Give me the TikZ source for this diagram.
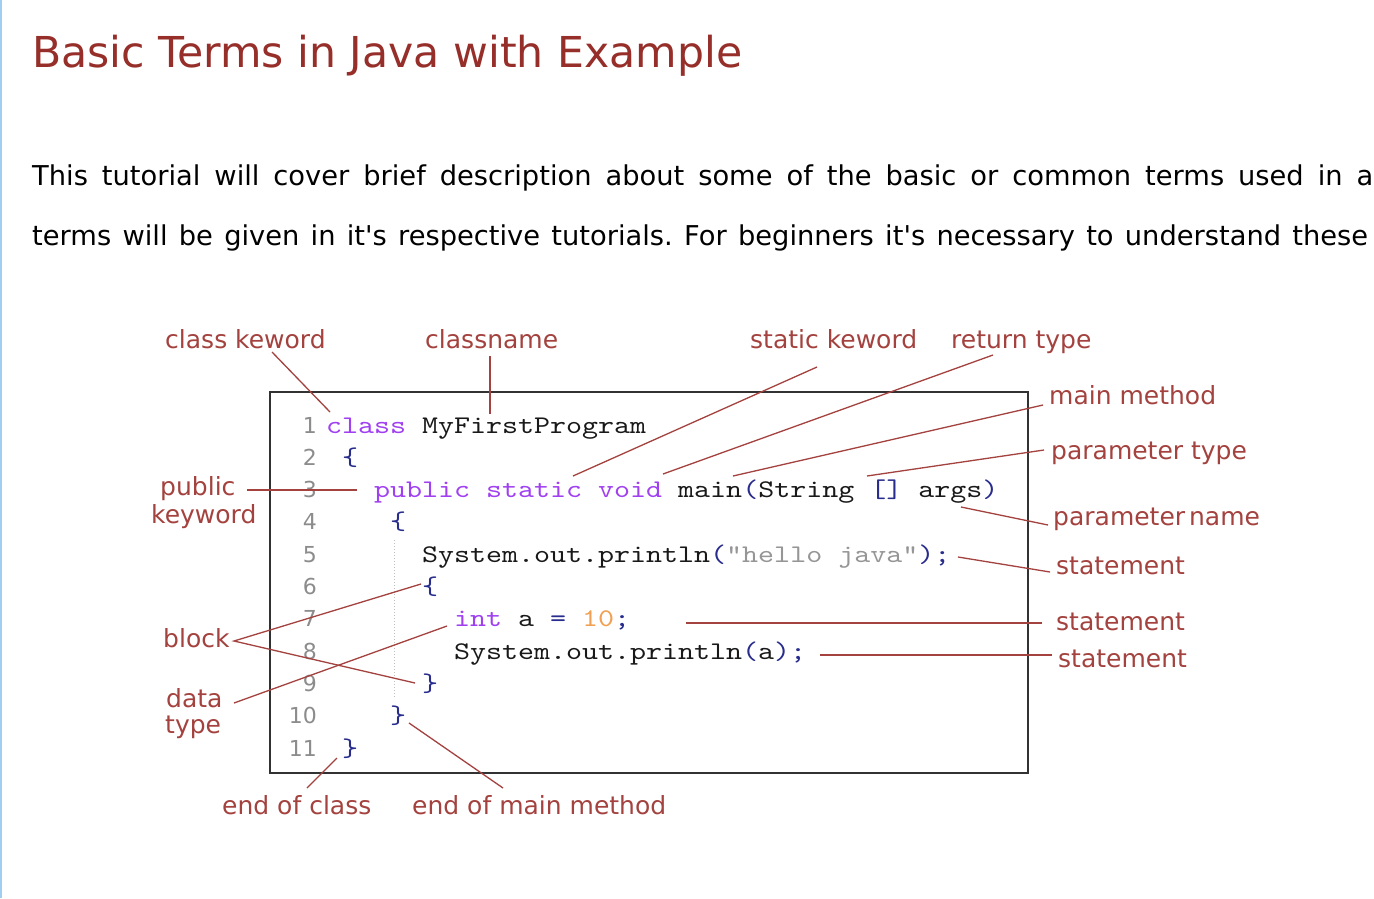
\documentclass[tikz,border=0pt]{standalone}
\usepackage{fontspec}
\setmainfont{DejaVu Sans}[Ligatures=TeXOff]
\newfontfamily\codef{lmmono10-regular}[Extension=.otf,FakeStretch=1.2,Ligatures=TeXOff]
\definecolor{titlec}{RGB}{150,46,42}
\definecolor{lblc}{RGB}{163,66,62}
\definecolor{kwc}{RGB}{160,64,240}
\definecolor{brc}{RGB}{40,44,140}
\definecolor{numc}{RGB}{240,160,80}
\definecolor{strc}{RGB}{150,150,150}
\definecolor{lnc}{RGB}{140,140,140}
\definecolor{idc}{RGB}{25,25,25}
\definecolor{boxc}{RGB}{50,50,50}
\definecolor{edgec}{RGB}{160,205,240}
\newcommand\jkw[1]{\textcolor{kwc}{#1}}
\newcommand\jbr[1]{\textcolor{brc}{#1}}
\newcommand\jnum[1]{\textcolor{numc}{#1}}
\newcommand\jstr[1]{\textcolor{strc}{#1}}
\begin{document}
\frenchspacing
\begin{tikzpicture}[x=1pt,y=-1pt,
  lbl/.style={text=lblc,font=\fontsize{25}{26}\selectfont,inner sep=0pt,anchor=base west},
  conn/.style={draw=lblc,line width=1.3pt},
  codeline/.style={text=idc,font=\codef\fontsize{25.4}{32}\selectfont,inner sep=0pt,anchor=base west},
  lnum/.style={text=lnc,font=\fontsize{22}{26}\selectfont,inner sep=0pt,anchor=base east},
  bodytxt/.style={text=black,font=\fontsize{27.3}{32}\selectfont,inner sep=0pt,anchor=base west}]
\useasboundingbox (0,0) rectangle (1374,898);
\fill[white] (0,0) rectangle (1374,898);
\draw[edgec,line width=1.6pt] (0.8,0) -- (0.8,898);
% heading and text
\node[text=titlec,font=\fontsize{42.6}{48}\selectfont,inner sep=0pt,anchor=base west] (title) at (32,67) {Basic Terms in Java with Example};
\node[bodytxt] (para1) at (32,185) {\makebox[1341pt][s]{This tutorial will cover brief description about some of the basic or common terms used in a}};
\node[bodytxt] (para2) at (32,245) {\makebox[1336pt][s]{terms will be given in it's respective tutorials. For beginners it's necessary to understand these}};
% code box
\draw[boxc,line width=2pt] (270,392) rectangle (1028,773);
\draw[gray!50,dotted,line width=1pt] (394,540) -- (394,698);
% line numbers
\foreach \n in {1,...,11}{
  \node[lnum] (ln\n) at (317,{433+32.3*(\n-1)}) {\n};
}
% code lines
\node[codeline] (c1) at (326,433) {\jkw{class} MyFirstProgram};
\node[codeline] (c2) at (342,465.3) {\jbr{\{}};
\node[codeline] (c3) at (374,497.6) {\jkw{public static void} main\jbr{(}String \jbr{[]} args\jbr{)}};
\node[codeline] (c4) at (390,529.9) {\jbr{\{}};
\node[codeline] (c5) at (422,562.2) {System.out.println\jbr{(}\jstr{"hello java"}\jbr{);}};
\node[codeline] (c6) at (422,594.5) {\jbr{\{}};
\node[codeline] (c7) at (454,626.8) {\jkw{int} a \jbr{=} \jnum{10}\jbr{;}};
\node[codeline] (c8) at (454,659.1) {System.out.println\jbr{(}a\jbr{);}};
\node[codeline] (c9) at (422,691.4) {\jbr{\}}};
\node[codeline] (c10) at (390,723.7) {\jbr{\}}};
\node[codeline] (c11) at (342,756) {\jbr{\}}};
% labels
\node[lbl] (Lck) at (165,348) {class keword};
\node[lbl] (Lcn) at (425,348) {classname};
\node[lbl] (Lsk) at (750,348) {static keword};
\node[lbl] (Lrt) at (951,348) {return type};
\node[lbl] (Lmm) at (1049,404) {main method};
\node[lbl] (Lpt) at (1051,459) {parameter type};
\node[lbl] (Lpn) at (1053,525) {parameter\hspace{-4pt} name};
\node[lbl] (Ls1) at (1056,574) {statement};
\node[lbl] (Ls2) at (1056,630) {statement};
\node[lbl] (Ls3) at (1058,667) {statement};
\node[lbl] (Lpk1) at (160,495) {public};
\node[lbl] (Lpk2) at (151,523) {keyword};
\node[lbl] (Lbl) at (163,647) {block};
\node[lbl] (Ldt1) at (166,707) {data};
\node[lbl] (Ldt2) at (165,733) {type};
\node[lbl] (Leoc) at (222,814) {end of class};
\node[lbl] (Leom) at (412,814) {end of main method};
% connector end points
\coordinate (ck0) at (272,352); \coordinate (ck1) at (330,412);
\coordinate (cn0) at (490,356); \coordinate (cn1) at (490,414);
\coordinate (sk0) at (817,367); \coordinate (sk1) at (573,476);
\coordinate (rt0) at (993,355); \coordinate (rt1) at (663,474);
\coordinate (mm0) at (1043,405); \coordinate (mm1) at (733,476);
\coordinate (pt0) at (1044,450); \coordinate (pt1) at (867,476);
\coordinate (pn0) at (1048,525); \coordinate (pn1) at (961,507);
\coordinate (s10) at (1050,572); \coordinate (s11) at (958,557);
\coordinate (s20) at (1042,623); \coordinate (s21) at (686,623);
\coordinate (s30) at (1052,655); \coordinate (s31) at (820,655);
\coordinate (pk0) at (247,490); \coordinate (pk1) at (357,490);
\coordinate (bl0) at (234,641); \coordinate (bl1) at (421,584); \coordinate (bl2) at (415,683);
\coordinate (dt0) at (234,703); \coordinate (dt1) at (447,626);
\coordinate (ec0) at (307,788); \coordinate (ec1) at (337,758);
\coordinate (em0) at (503,788); \coordinate (em1) at (409,723);
% connectors
\draw[conn] (ck0) -- (ck1);
\draw[conn] (cn0) -- (cn1);
\draw[conn] (sk0) -- (sk1);
\draw[conn] (rt0) -- (rt1);
\draw[conn] (mm0) -- (mm1);
\draw[conn] (pt0) -- (pt1);
\draw[conn] (pn0) -- (pn1);
\draw[conn] (s10) -- (s11);
\draw[conn] (s20) -- (s21);
\draw[conn] (s30) -- (s31);
\draw[conn] (pk0) -- (pk1);
\draw[conn] (bl1) -- (bl0) -- (bl2);
\draw[conn] (dt0) -- (dt1);
\draw[conn] (ec0) -- (ec1);
\draw[conn] (em0) -- (em1);
\end{tikzpicture}
\end{document}
